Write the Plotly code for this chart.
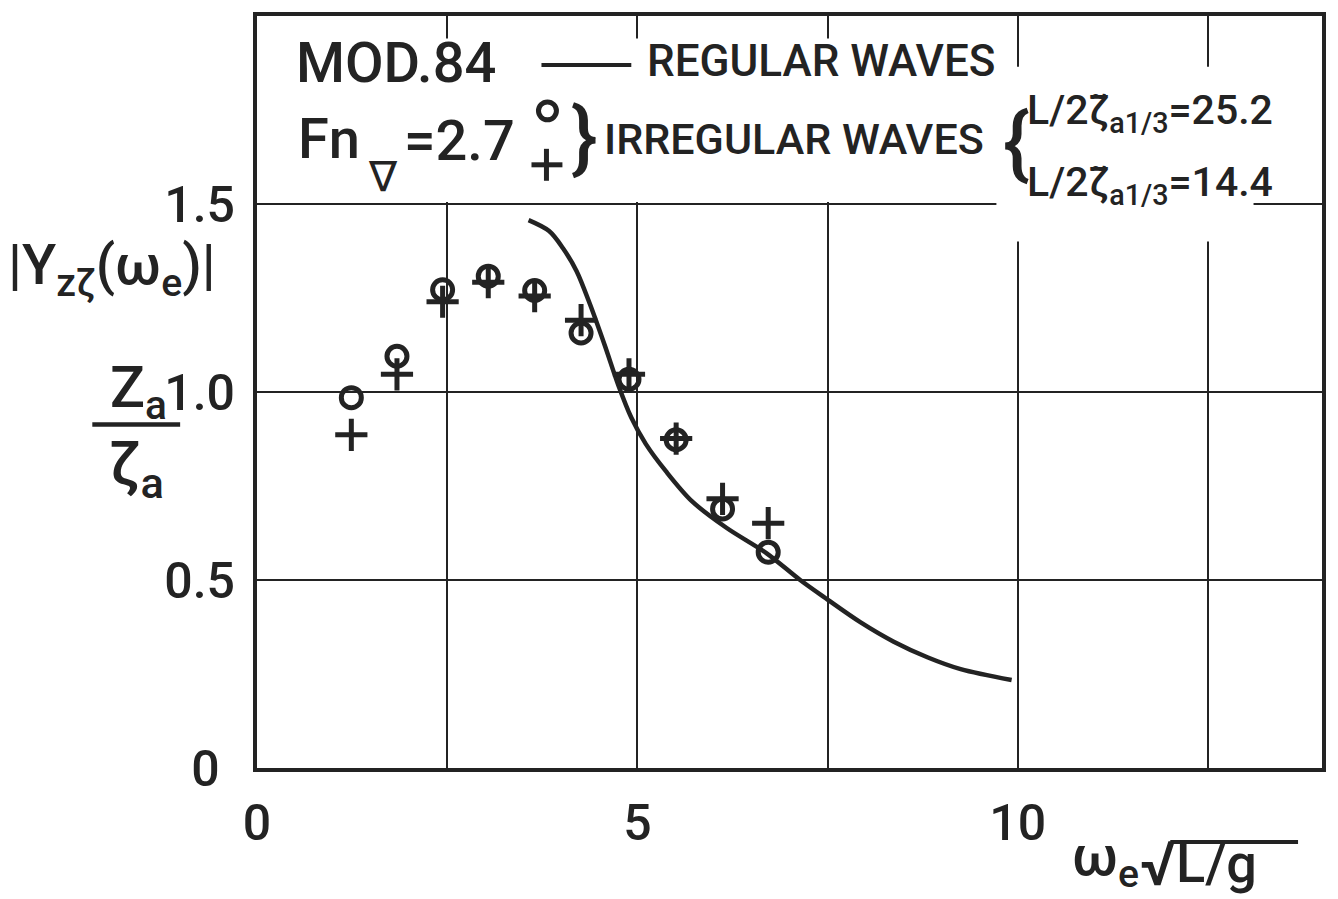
import plotly.graph_objects as go

# ---- data -------------------------------------------------------------
# regular waves: heave response amplitude operator
omega_reg = [3.57, 3.84, 4.02, 4.20, 4.38, 4.57, 4.75, 4.92, 5.11, 5.38,
             5.72, 6.17, 6.70, 7.14, 7.50, 7.93, 8.37, 8.82, 9.25, 9.92]
amp_reg = [1.457, 1.428, 1.383, 1.322, 1.232, 1.125, 1.018, 0.932, 0.862, 0.788,
           0.709, 0.639, 0.571, 0.500, 0.448, 0.388, 0.336, 0.294, 0.263, 0.234]

# irregular waves, two significant wave heights
omega_irr = [1.24, 1.84, 2.44, 3.04, 3.65, 4.26, 4.89, 5.51, 6.12, 6.72]
amp_irr_252 = [0.985, 1.095, 1.272, 1.308, 1.270, 1.157, 1.034, 0.873, 0.689, 0.574]
amp_irr_144 = [0.886, 1.047, 1.240, 1.292, 1.255, 1.191, 1.047, 0.876, 0.716, 0.651]

x_tickvals = [0, 2.5, 5, 7.5, 10, 12.5]
x_ticktext = ["0", "", "5", "", "10", ""]
y_tickvals = [0, 0.5, 1.0, 1.5]
y_ticktext = ["0\u2009\u200a", "0.5", "1.0", "1.5"]

# ---- page geometry ----------------------------------------------------
W, H = 1338, 899
L, R, T, B = 257, 1324, 15, 768
INK = "#232323"
FONT = "Roboto, 'DejaVu Sans', sans-serif"
WEIGHT = 500


def fx(p):
    return (p - L) / (R - L)


def fy(p):
    return (B - p) / (B - T)


fig = go.Figure()

fig.add_trace(go.Scatter(
    x=omega_reg, y=amp_reg, mode="lines", line_shape="spline",
    line=dict(color=INK, width=4.5, smoothing=0.9),
    showlegend=False, hoverinfo="skip"))

fig.add_trace(go.Scatter(
    x=omega_irr, y=amp_irr_252, mode="markers", showlegend=False,
    marker=dict(symbol="circle-open", size=20, color=INK,
                line=dict(color=INK, width=5))))

fig.add_trace(go.Scatter(
    x=omega_irr, y=amp_irr_144, mode="markers", showlegend=False,
    marker=dict(symbol="cross-thin-open", size=23, color=INK,
                line=dict(color=INK, width=5))))

shapes = []
# white panels behind the legend block hide the grid there
shapes.append(dict(type="rect", xref="x", yref="y", x0=0.03, x1=9.72,
                   y0=1.505, y1=1.94, fillcolor="white", line_width=0,
                   layer="between"))
shapes.append(dict(type="rect", xref="x", yref="y", x0=9.72, x1=13.1,
                   y0=1.40, y1=1.865, fillcolor="white", line_width=0,
                   layer="between"))

# legend symbols
shapes.append(dict(type="line", xref="paper", yref="paper",
                   x0=fx(542), x1=fx(632), y0=fy(64), y1=fy(64),
                   line=dict(color=INK, width=4)))
shapes.append(dict(type="circle", xref="paper", yref="paper",
                   x0=fx(539), x1=fx(557), y0=fy(101), y1=fy(119),
                   line=dict(color=INK, width=5)))
shapes.append(dict(type="line", xref="paper", yref="paper",
                   x0=fx(532), x1=fx(563), y0=fy(164), y1=fy(164),
                   line=dict(color=INK, width=5)))
shapes.append(dict(type="line", xref="paper", yref="paper",
                   x0=fx(547), x1=fx(547), y0=fy(148), y1=fy(180),
                   line=dict(color=INK, width=5)))

# fraction bar of the y label
shapes.append(dict(type="line", xref="paper", yref="paper",
                   x0=fx(92), x1=fx(180), y0=fy(424), y1=fy(424),
                   line=dict(color=INK, width=4.5)))
# radical overline of the x label
shapes.append(dict(type="line", xref="paper", yref="paper",
                   x0=fx(1172), x1=fx(1300), y0=fy(842), y1=fy(842),
                   line=dict(color=INK, width=4)))


def note(text, x, y, size, xanchor="left", yanchor="middle"):
    return dict(text=text, x=fx(x), y=fy(y), xref="paper", yref="paper",
                xanchor=xanchor, yanchor=yanchor, showarrow=False,
                font=dict(family=FONT, size=size, color=INK, weight=WEIGHT))


annotations = [
    note("MOD.84", 294, 62, 56),
    note("REGULAR WAVES", 646, 60, 44),
    note("Fn", 296, 138, 56),
    note("\u2207", 366, 176, 42),
    note("=2.7", 402, 140, 56),
    note("}", 570, 136, 80),
    note("IRREGULAR WAVES", 603, 138, 43),
    note("{", 1002, 142, 80),
    note("L/2\u03b6\u0303<sub>a1/3</sub>=25.2", 1026, 112, 41),
    note("L/2\u03b6\u0303<sub>a1/3</sub>=14.4", 1026, 184, 41),
    # y axis label
    note("|Y<sub>z\u03b6</sub>(\u03c9<sub>e</sub>)|", 6, 268, 56),
    note("Z<sub>a</sub>", 138, 390, 58, xanchor="center"),
    note("\u03b6<sub>a</sub>", 136, 468, 62, xanchor="center"),
    # x axis label
    note("\u03c9<sub>e</sub>", 1072, 860, 56),
    note("\u221a", 1140, 864, 62),
    note("L/g", 1176, 864, 54),
]

fig.update_layout(
    width=W, height=H, autosize=False,
    margin=dict(l=L, r=W - R, t=T, b=H - B, pad=0),
    paper_bgcolor="white", plot_bgcolor="white",
    shapes=shapes, annotations=annotations,
    font=dict(family=FONT, color=INK, weight=WEIGHT),
    xaxis=dict(range=[0, 14], tickmode="array", tickvals=x_tickvals,
               ticktext=x_ticktext, ticks="", ticklabelstandoff=8,
               tickfont=dict(size=50, family=FONT, color=INK, weight=WEIGHT),
               showgrid=True, gridcolor=INK, gridwidth=2,
               zeroline=False, showline=True, mirror=True,
               linecolor=INK, linewidth=4),
    yaxis=dict(range=[0, 2.0], tickmode="array", tickvals=y_tickvals,
               ticktext=y_ticktext, ticks="", ticklabelstandoff=8,
               tickfont=dict(size=50, family=FONT, color=INK, weight=WEIGHT),
               showgrid=True, gridcolor=INK, gridwidth=2,
               zeroline=False, showline=True, mirror=True,
               linecolor=INK, linewidth=4),
)

fig.write_html("out.html")
